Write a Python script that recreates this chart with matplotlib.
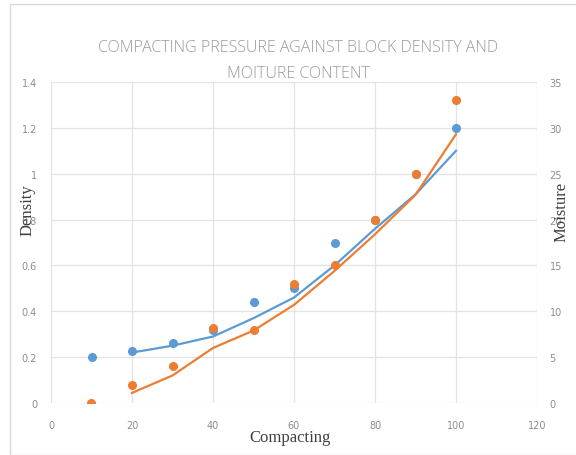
import matplotlib
matplotlib.use("Agg")
import matplotlib.pyplot as plt
from matplotlib.patches import Rectangle

# Data
compacting = [10, 20, 30, 40, 50, 60, 70, 80, 90, 100]
density = [0.20, 0.225, 0.26, 0.32, 0.44, 0.50, 0.70, 0.80, 1.00, 1.20]
moisture = [0.0, 2.0, 4.0, 8.2, 8.0, 13.0, 15.0, 20.0, 25.0, 33.0]

trend_x = [20, 30, 40, 50, 60, 70, 80, 90, 100]
density_trend = [0.22, 0.25, 0.29, 0.37, 0.46, 0.60, 0.76, 0.91, 1.10]
moisture_trend = [1.1, 3.0, 6.0, 7.9, 10.7, 14.4, 18.4, 22.7, 29.3]

x_ticks = [0, 20, 40, 60, 80, 100, 120]
left_ticks = [0, 0.2, 0.4, 0.6, 0.8, 1.0, 1.2, 1.4]
left_labels = ["0", "0.2", "0.4", "0.6", "0.8", "1", "1.2", "1.4"]
right_ticks = [0, 5, 10, 15, 20, 25, 30, 35]

title_text = "COMPACTING PRESSURE AGAINST BLOCK DENSITY AND\nMOITURE CONTENT"

BLUE = "#5B9BD5"
ORANGE = "#ED7D31"
GRID = "#E3E3E3"
TICKC = "#8C8C8C"

fig = plt.figure(figsize=(5.76, 4.56), dpi=100)
fig.patches.append(Rectangle((10 / 576, 0), 1, 1 - 5 / 456, transform=fig.transFigure,
                             fill=False, edgecolor="#D9D9D9", linewidth=1.0))

W, H = 576, 456
left, right, bottom, top = 51, 537, 404, 83
ax = fig.add_axes([left / W, 1 - bottom / H, (right - left) / W, (bottom - top) / H])
ax2 = ax.twinx()

ax.set_xlim(0, 120)
ax.set_ylim(0, 1.4)
ax2.set_ylim(0, 35)

ax.set_xticks(x_ticks)
ax.set_yticks(left_ticks)
ax.set_yticklabels(left_labels)
ax2.set_yticks(right_ticks)

for a in (ax, ax2):
    for s in a.spines.values():
        s.set_visible(False)
    a.tick_params(length=0, labelsize=7, labelcolor=TICKC)
ax.tick_params(axis="x", pad=12)
ax.tick_params(axis="y", pad=10)
ax2.tick_params(axis="y", pad=9)

ax.grid(True, color=GRID, linewidth=0.9)
ax.set_axisbelow(True)

ax.plot(compacting, density, "o", color=BLUE, markersize=5.5, zorder=3)
ax.plot(trend_x, density_trend, "-", color=BLUE, linewidth=1.6, zorder=3)
ax2.plot(compacting, moisture, "o", color=ORANGE, markersize=5.5, zorder=4)
ax2.plot(trend_x, moisture_trend, "-", color=ORANGE, linewidth=1.6, zorder=4)

serif = ["Liberation Serif", "DejaVu Serif"]
lab_kw = dict(family=serif, fontsize=12, color="#404040", ha="center", va="center")
fig.text(290 / W, 1 - 438 / H, "Compacting", **lab_kw)
fig.text(28 / W, 1 - 210 / H, "Density", rotation=90, **lab_kw)
fig.text(562 / W, 1 - 212 / H, "Moisture", rotation=90, **lab_kw)

fig.text(298 / W, 1 - 61 / H, title_text, ha="center", va="center", fontsize=11.5,
         color="#9A9A9A", family=["Open Sans", "DejaVu Sans"], fontweight="light",
         linespacing=1.75)

fig.savefig("out.png", dpi=100)
